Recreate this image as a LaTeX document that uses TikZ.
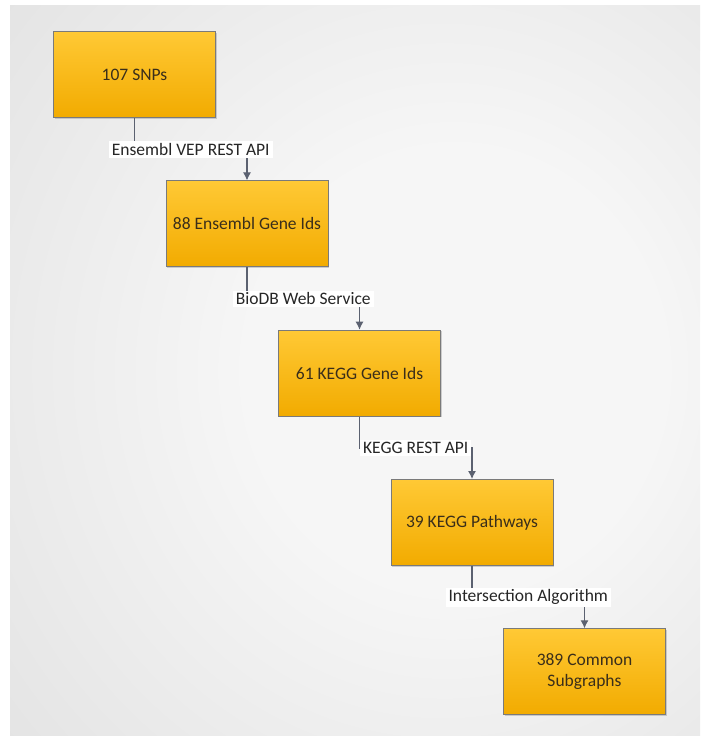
\documentclass[tikz,border=0pt]{standalone}
\usepackage{fontspec}
\setmainfont{Carlito}
\usetikzlibrary{positioning,arrows.meta,shadows}

\definecolor{boxtop}{HTML}{FFC935}
\definecolor{boxbot}{HTML}{F2AB00}
\definecolor{boxline}{HTML}{7A7A7A}
\definecolor{boxtext}{HTML}{3A2E1A}
\definecolor{arline}{HTML}{5B6170}
\definecolor{bglight}{HTML}{F6F6F6}
\definecolor{bgmid}{HTML}{DCDCDC}
\definecolor{bgdark}{HTML}{C2C2C2}
\pgfdeclareradialshading{bgshade}{\pgfpoint{9bp}{0bp}}{%
  color(0bp)=(bglight); color(15bp)=(bglight);
  color(50bp)=(bgmid); color(80bp)=(bgdark)}

\begin{document}
\begin{tikzpicture}[
	x=1pt, y=1pt,
	node distance=62.5pt,
	ar/.style={draw=arline, line width=1.1pt, -{Latex[length=8pt,width=8pt]}},
	databox/.style={
	  draw=boxline,
	  line width=0.8pt,
	  top color=boxtop,
	  bottom color=boxbot,
	  minimum width=162pt,
	  minimum height=86pt,
	  align=center,
	  text=boxtext,
	  font=\fontsize{17.5}{21}\selectfont,
	  drop shadow={shadow xshift=1.2pt, shadow yshift=-1.2pt, opacity=0.35}
	  },
	lbl/.style={
	  fill=white,
	  inner xsep=3pt,
	  inner ysep=2pt,
	  text=black!85,
	  font=\fontsize{17.5}{21}\selectfont
	  }
	]
		% background
		\path[use as bounding box] (0,0) rectangle (703,-736);
		\shade[shading=bgshade] (10,-5) rectangle (700,-736);

		\node[databox] (snps) at (134.5,-74.5) {107 SNPs};
		\node[databox,below=of snps,xshift=112.5pt] (ens) {88 Ensembl Gene Ids};
		\node[databox,below=of ens,xshift=112.5pt] (kgene) {61 KEGG Gene Ids};
		\node[databox,below=of kgene,xshift=112.5pt] (kpath) {39 KEGG Pathways};
		\node[databox,below=of kpath,xshift=112.5pt] (sub) {389 Common\\Subgraphs};

		\draw[ar]
			(snps.south) -- ++(0,-31.5) -| node[lbl,pos=.25] {Ensembl VEP REST API} (ens.north);
		\draw[ar]
			(ens.south) -- ++(0,-31.5) -| node[lbl,pos=.25] {BioDB Web Service} (kgene.north);
		\draw[ar]
			(kgene.south) -- ++(0,-31.5) -| node[lbl,pos=.25] {KEGG REST API} (kpath.north);
		\draw[ar]
			(kpath.south) -- ++(0,-31.5) -| node[lbl,pos=.25] {Intersection Algorithm} (sub.north);
	\end{tikzpicture}
\end{document}
